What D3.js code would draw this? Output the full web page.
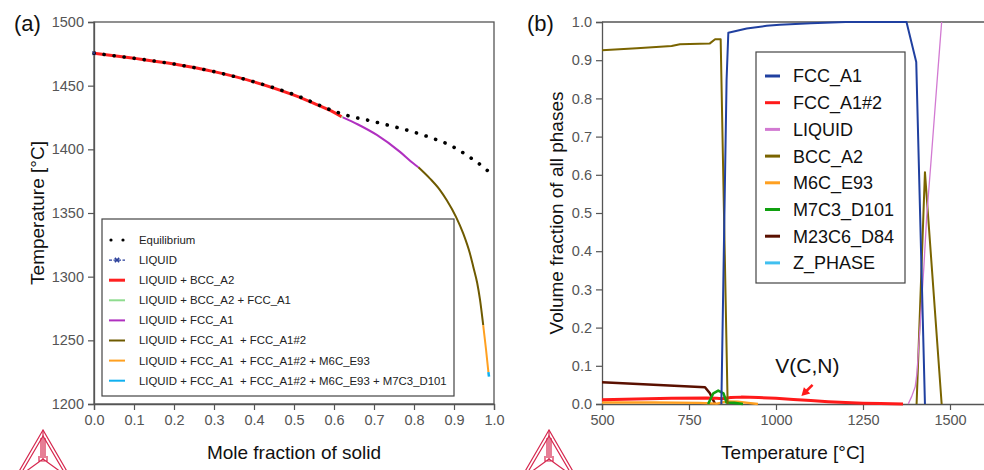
<!DOCTYPE html>
<html>
<head>
<meta charset="utf-8">
<script src="https://cdn.jsdelivr.net/npm/d3@7"></script>
<style>
  body { margin: 0; background: #fff; }
  svg { display: block; font-family: Arial, "Liberation Sans", sans-serif; }
</style>
</head>
<body>
<div id="chart"></div>
<script>
// ---------- panel (a) data : Scheil vs equilibrium ----------
var eqFs = [0, 0.1, 0.2, 0.3, 0.4, 0.5, 0.6, 0.64, 0.69, 0.74, 0.79, 0.84, 0.894, 0.94, 0.982, 1.0]
var eqT  = [1475.5, 1471.5, 1467, 1461, 1453, 1443, 1430, 1426, 1422.5, 1418.6, 1414.4, 1409.4, 1402.6, 1393.7, 1383.8, 1378.5]

var liquidPt = [0, 1475.5]
var bccFs  = [0, 0.1, 0.2, 0.3, 0.4, 0.5, 0.55, 0.6, 0.619]
var bccT   = [1475.5, 1471.5, 1467, 1461, 1453, 1442.5, 1436, 1429, 1425.6]
var bccFccFs = [0.619, 0.622]
var bccFccT  = [1425.6, 1425.1]
var fccFs  = [0.622, 0.66, 0.707, 0.765, 0.798, 0.811]
var fccT   = [1425.1, 1419.5, 1411.3, 1398, 1389, 1385.9]
var fcc2Fs = [0.811, 0.84, 0.865, 0.882, 0.905, 0.923, 0.94, 0.948, 0.958, 0.965, 0.973]
var fcc2T  = [1385.9, 1377, 1368, 1360, 1347, 1334, 1318, 1308, 1295, 1282, 1262]
var m6cFs  = [0.973, 0.98, 0.986]
var m6cT   = [1262, 1243, 1225]
var m7cFs  = [0.986, 0.9875]
var m7cT   = [1225, 1221.5]

var legendA = ["Equilibrium", "LIQUID", "LIQUID + BCC_A2", "LIQUID + BCC_A2 + FCC_A1", "LIQUID + FCC_A1",
  "LIQUID + FCC_A1  + FCC_A1#2", "LIQUID + FCC_A1  + FCC_A1#2 + M6C_E93", "LIQUID + FCC_A1  + FCC_A1#2 + M6C_E93 + M7C3_D101"]
var colorsA = ["#000", "#2a3f9a", "#ff2020", "#8fdc8f", "#b030c0", "#6e5a00", "#ffa020", "#10b0f0"]

var xTicksA = [0, 0.1, 0.2, 0.3, 0.4, 0.5, 0.6, 0.7, 0.8, 0.9, 1.0]
var yTicksA = [1200, 1250, 1300, 1350, 1400, 1450, 1500]

// ---------- panel (b) data : phase fractions vs temperature ----------
var phaseNames = ["FCC_A1", "FCC_A1#2", "LIQUID", "BCC_A2", "M6C_E93", "M7C3_D101", "M23C6_D84", "Z_PHASE"]
var phaseColors = ["#2040a0", "#ff1a1a", "#d27ad2", "#7a6400", "#ffa020", "#10a010", "#5a1000", "#40c0f0"]

var fccA1 = [[843,0],[858,0.848],[863,0.972],[916,0.983],[973,0.99],[1011,0.993],[1100,0.997],[1200,1.0],[1375,1.0],[1403,0.895],[1428,0]]
var fccA1n2 = [[500,0.011],[600,0.013],[700,0.015],[800,0.016],[830,0.015],[845,0.014],[870,0.017],[900,0.018],[950,0.017],[1000,0.015],[1050,0.012],[1100,0.009],[1150,0.006],[1200,0.004],[1250,0.002],[1300,0.001],[1365,0]]
var liquid = [[1380,0],[1390,0.02],[1400,0.045],[1405,0.08],[1415,0.22],[1425,0.36],[1433,0.49],[1445,0.63],[1455,0.75],[1465,0.87],[1476,1.0]]
var bccLow = [[500,0.926],[600,0.931],[700,0.937],[724,0.942],[810,0.944],[825,0.955],[841,0.955],[861,0]]
var bccHigh = [[1404,0],[1428,0.607],[1476,0]]
var m6c = [[500,0.004],[650,0.004],[780,0.003],[830,0.001],[860,0.007],[890,0.006],[920,0.003],[948,0]]
var m7c3 = [[805,0],[820,0.028],[834,0.035],[849,0.028],[858,0.004],[880,0.003],[905,0]]
var m23c6 = [[500,0.057],[796,0.044],[810,0.028],[825,0]]
var zPhase = []   // not visible in the plotted range

var xTicksB = [500, 750, 1000, 1250, 1500]
var yTicksB = [0, 0.1, 0.2, 0.3, 0.4, 0.5, 0.6, 0.7, 0.8, 0.9, 1.0]

var W = 984, H = 470

const svg = d3.select("#chart").append("svg")
    .attr("width", W)
    .attr("height", H)

// Thermo-Calc style logo
function logo(cx) {
    var g = svg.append("g").attr("fill", "none").attr("stroke", "#d6284f").attr("stroke-width", 1.2)
    var top = 430, h = 50
    g.append("path").attr("d", "M" + cx + "," + top + " L" + (cx - 29) + "," + (top + h) + " L" + (cx + 29) + "," + (top + h) + " Z")
    g.append("path").attr("d", "M" + cx + "," + (top + 6) + " L" + (cx - 24) + "," + (top + h - 3) + " L" + (cx + 24) + "," + (top + h - 3) + " Z")
    g.append("path").attr("d", "M" + cx + "," + top + " L" + cx + "," + (top + 29) + " M" + (cx - 2) + "," + (top + 8) + " L" + (cx - 2) + "," + (top + 28)
        + " M" + (cx + 2) + "," + (top + 8) + " L" + (cx + 2) + "," + (top + 28))
    g.append("path").attr("d", "M" + cx + "," + (top + 29) + " L" + (cx - 29) + "," + (top + h) + " M" + cx + "," + (top + 29) + " L" + (cx + 29) + "," + (top + h)
        + " M" + (cx - 4) + "," + (top + 26) + " L" + (cx - 4) + "," + (top + 31) + " L" + (cx + 4) + "," + (top + 31) + " L" + (cx + 4) + "," + (top + 26))
}
logo(43)
logo(549)

function zip(a, b) { return a.map(function (d, i) { return [d, b[i]] }) }

// =========================== PANEL (a) ===========================
var xA = d3.scaleLinear().domain([0, 1]).range([94, 494])
var yA = d3.scaleLinear().domain([1200, 1500]).range([404, 22])

var gA = svg.append("g")

// frame
gA.append("rect").attr("x", 94).attr("y", 22).attr("width", 400).attr("height", 382)
    .attr("fill", "none").attr("stroke", "#555").attr("stroke-width", 1.3)

var axA = gA.append("g").attr("transform", "translate(0,404)")
    .call(d3.axisBottom(xA).tickValues(xTicksA).tickFormat(d3.format(".1f")).tickSize(6).tickPadding(5))
var ayA = gA.append("g").attr("transform", "translate(94,0)")
    .call(d3.axisLeft(yA).tickValues(yTicksA).tickFormat(d3.format("d")).tickSize(6).tickPadding(4))

var lineA = d3.line().x(function (d) { return xA(d[0]) }).y(function (d) { return yA(d[1]) }).curve(d3.curveMonotoneX)

var segs = [
    { d: zip(bccFs, bccT), c: colorsA[2], w: 3 },
    { d: zip(bccFccFs, bccFccT), c: colorsA[3], w: 2 },
    { d: zip(fccFs, fccT), c: colorsA[4], w: 2 },
    { d: zip(fcc2Fs, fcc2T), c: colorsA[5], w: 2 },
    { d: zip(m6cFs, m6cT), c: colorsA[6], w: 2 },
    { d: zip(m7cFs, m7cT), c: colorsA[7], w: 2.5 }
]
gA.selectAll("path.scheil")
    .data(segs)
    .enter()
    .append("path")
    .attr("class", "scheil")
    .attr("d", function (d) { return lineA(d.d) })
    .attr("fill", "none")
    .attr("stroke", function (d) { return d.c })
    .attr("stroke-width", function (d) { return d.w })

// equilibrium dotted
gA.append("path")
    .attr("d", lineA(zip(eqFs, eqT)))
    .attr("fill", "none")
    .attr("stroke", "#000")
    .attr("stroke-width", 3.6)
    .attr("stroke-linecap", "round")
    .attr("stroke-dasharray", "0.1 10")

// LIQUID start marker
gA.append("path")
    .attr("d", d3.symbol(d3.symbolX, 10)())
    .attr("transform", "translate(" + xA(liquidPt[0]) + "," + yA(liquidPt[1]) + ")")
    .attr("stroke", colorsA[1]).attr("stroke-width", 1)

// legend (a)
var legA = gA.append("g")
legA.append("rect").attr("x", 102).attr("y", 219).attr("width", 352).attr("height", 177)
    .attr("fill", "#fff").attr("stroke", "#444").attr("stroke-width", 1.2)
legendA.forEach(function (name, i) {
    var yy = 240 + i * 20.1
    if (i == 0) {
        legA.append("circle").attr("cx", 111).attr("cy", yy).attr("r", 1.6).attr("fill", "#000")
        legA.append("circle").attr("cx", 123).attr("cy", yy).attr("r", 1.6).attr("fill", "#000")
    } else if (i == 1) {
        legA.append("line").attr("x1", 109).attr("x2", 125).attr("y1", yy).attr("y2", yy)
            .attr("stroke", colorsA[1]).attr("stroke-width", 1.2).attr("stroke-dasharray", "3 1.5")
        legA.append("path").attr("d", d3.symbol(d3.symbolX, 14)())
            .attr("transform", "translate(117," + yy + ")")
            .attr("stroke", colorsA[1]).attr("stroke-width", 1.6)
    } else {
        legA.append("line").attr("x1", 109).attr("x2", 125).attr("y1", yy).attr("y2", yy)
            .attr("stroke", colorsA[i]).attr("stroke-width", i == 2 ? 3 : 2)
    }
    legA.append("text").attr("x", 139).attr("y", yy).attr("dy", "0.35em")
        .style("font-size", "11.4px").attr("fill", "#222").style("white-space", "pre").attr("xml:space", "preserve").text(name)
})

// titles (a)
gA.append("text").attr("x", 294).attr("y", 459).attr("text-anchor", "middle")
    .style("font-size", "19px").attr("fill", "#111").text("Mole fraction of solid")
gA.append("text").attr("transform", "translate(44,213) rotate(-90)").attr("text-anchor", "middle")
    .style("font-size", "19px").attr("fill", "#111").text("Temperature [°C]")
gA.append("text").attr("x", 14).attr("y", 31).style("font-size", "22px").attr("fill", "#111").text("(a)")

// =========================== PANEL (b) ===========================
var xB = d3.scaleLinear().domain([500, 1600]).range([602, 984.8])
var yB = d3.scaleLinear().domain([0, 1]).range([404, 22])

var gB = svg.append("g")
gB.append("line").attr("x1", 602).attr("x2", 984).attr("y1", 22).attr("y2", 22).attr("stroke", "#555").attr("stroke-width", 1.3)

var axB = gB.append("g").attr("transform", "translate(0,404)")
    .call(d3.axisBottom(xB).tickValues(xTicksB).tickFormat(d3.format("d")).tickSize(6).tickPadding(5))
var ayB = gB.append("g").attr("transform", "translate(602,0)")
    .call(d3.axisLeft(yB).tickValues(yTicksB).tickFormat(d3.format(".1f")).tickSize(6).tickPadding(4))

;[axA, ayA, axB, ayB].forEach(function (a) {
    a.select(".domain").attr("stroke", "#555").attr("stroke-width", 1.3)
    a.selectAll(".tick line").attr("stroke", "#555").attr("stroke-width", 1.2)
    a.selectAll(".tick text").style("font-size", "14.5px").attr("fill", "#555").style("font-family", "Arial, 'Liberation Sans', sans-serif")
})

var lineB = d3.line().x(function (d) { return xB(d[0]) }).y(function (d) { return yB(d[1]) })

var seriesB = [
    { d: zPhase, c: phaseColors[7], w: 2 },
    { d: m23c6, c: phaseColors[6], w: 2.5 },
    { d: m6c, c: phaseColors[4], w: 2.4 },
    { d: fccA1n2, c: phaseColors[1], w: 3 },
    { d: m7c3, c: phaseColors[5], w: 2.6 },
    { d: bccLow, c: phaseColors[3], w: 2 },
    { d: bccHigh, c: phaseColors[3], w: 2 },
    { d: liquid, c: phaseColors[2], w: 1.3 },
    { d: fccA1, c: phaseColors[0], w: 2 }
]
gB.selectAll("path.phase")
    .data(seriesB)
    .enter()
    .append("path")
    .attr("class", "phase")
    .attr("d", function (d) { return d.d.length ? lineB(d.d) : null })
    .attr("fill", "none")
    .attr("stroke", function (d) { return d.c })
    .attr("stroke-width", function (d) { return d.w })
    .attr("stroke-linejoin", "round")

// legend (b)
var legB = gB.append("g")
legB.append("rect").attr("x", 756).attr("y", 52).attr("width", 149).attr("height", 231)
    .attr("fill", "#fff").attr("stroke", "#444").attr("stroke-width", 1.2)
legB.selectAll("line")
    .data(phaseNames)
    .enter()
    .append("line")
    .attr("x1", 765).attr("x2", 780)
    .attr("y1", function (d, i) { return 76 + i * 26.7 })
    .attr("y2", function (d, i) { return 76 + i * 26.7 })
    .attr("stroke", function (d, i) { return phaseColors[i] })
    .attr("stroke-width", 3)
legB.selectAll("text")
    .data(phaseNames)
    .enter()
    .append("text")
    .attr("x", 793)
    .attr("y", function (d, i) { return 76 + i * 26.7 })
    .attr("dy", "0.36em")
    .style("font-size", "18px")
    .attr("fill", "#111")
    .text(function (d) { return d })

// V(C,N) annotation with arrow
gB.append("text").attr("x", xB(1090)).attr("y", yB(0.081)).attr("text-anchor", "middle")
    .style("font-size", "21px").attr("fill", "#111").text("V(C,N)")
var tail = [xB(1105), yB(0.05)], tip = [xB(1073), yB(0.021)]
gB.append("line").attr("x1", tail[0]).attr("y1", tail[1]).attr("x2", tip[0] + 4).attr("y2", tip[1] - 4)
    .attr("stroke", "#ff1a1a").attr("stroke-width", 2.6)
var ang = Math.atan2(tip[1] - tail[1], tip[0] - tail[0])
var hl = 8, hw = 4.5
var bx = tip[0] - hl * Math.cos(ang), by = tip[1] - hl * Math.sin(ang)
gB.append("path")
    .attr("d", "M" + tip[0] + "," + tip[1] + " L" + (bx + hw * Math.sin(ang)) + "," + (by - hw * Math.cos(ang)) + " L" + (bx - hw * Math.sin(ang)) + "," + (by + hw * Math.cos(ang)) + " Z")
    .attr("fill", "#ff1a1a")

// titles (b)
gB.append("text").attr("x", 793).attr("y", 459).attr("text-anchor", "middle")
    .style("font-size", "19px").attr("fill", "#111").text("Temperature [°C]")
gB.append("text").attr("transform", "translate(563,213) rotate(-90)").attr("text-anchor", "middle")
    .style("font-size", "19px").attr("fill", "#111").text("Volume fraction of all phases")
gB.append("text").attr("x", 527).attr("y", 31).style("font-size", "22px").attr("fill", "#111").text("(b)")
</script>
</body>
</html>
